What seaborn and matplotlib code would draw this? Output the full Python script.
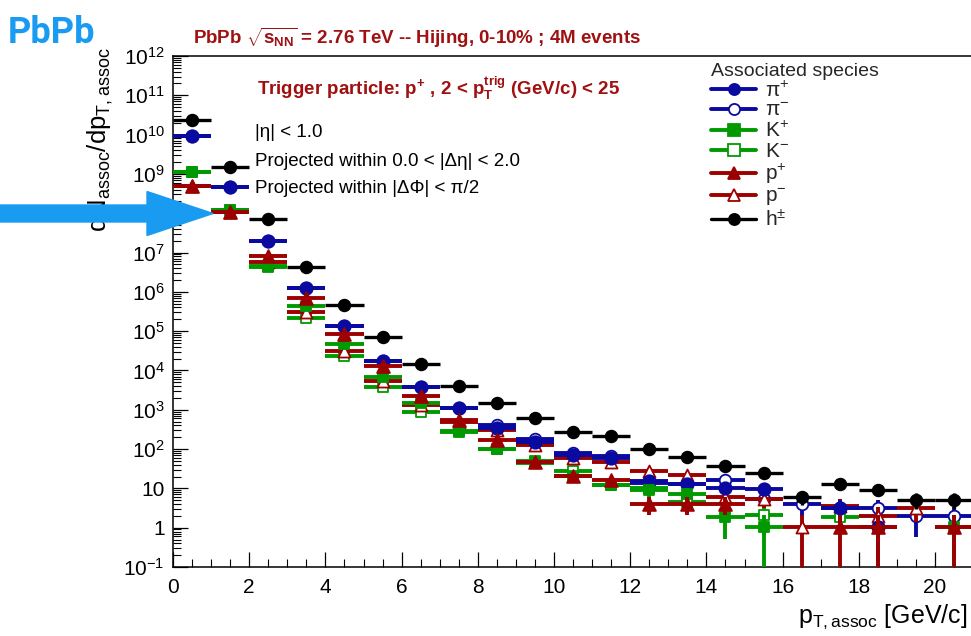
import numpy as np
import matplotlib
matplotlib.use("Agg")
import matplotlib.pyplot as plt
import seaborn as sns
from matplotlib.lines import Line2D
from matplotlib.patches import FancyArrow
from matplotlib.ticker import FixedLocator, FixedFormatter, MultipleLocator, LogLocator, NullFormatter

nan = np.nan
# ---------------- data ----------------
pt_centers = [0.5, 1.5, 2.5, 3.5, 4.5, 5.5, 6.5, 7.5, 8.5, 9.5, 10.5,
              11.5, 12.5, 13.5, 14.5, 15.5, 16.5, 17.5, 18.5, 19.5, 20.5]
bin_half_width = 0.5

pi_plus = [9.4e9, 4.7e8, 2.0e7, 1.26e6, 1.35e5, 1.7e4, 3.7e3, 1.1e3, 340, 150, 70,
           58, 15, 13, 10.5, 9.8, nan, 3.2, 1.07, nan, nan]
pi_minus = [9.4e9, 4.7e8, 2.0e7, 1.26e6, 1.35e5, 1.7e4, 3.7e3, 1.1e3, 420, 185, 80,
            65, 14, 13, 16, 5.5, 3.9, 3.2, 3.2, 2.0, 2.0]
k_plus = [1.15e9, 1.2e8, 4.5e6, 4.3e5, 4.7e4, 6.8e3, 1.45e3, 290, 103, 50, 21,
          12, 9, 7.4, 1.9, 1.07, nan, nan, nan, nan, 1.07]
k_minus = [1.1e9, 1.2e8, 4.3e6, 2.1e5, 2.3e4, 3.7e3, 860, 280, 100, 45, 27,
           12, 10, 4.4, nan, 2.1, nan, 1.9, nan, nan, nan]
p_plus = [5.0e8, 1.1e8, 8.2e6, 6.9e5, 8.3e4, 1.3e4, 2.3e3, 550, 175, 48, 21,
          16, 4.1, 4.1, 4.1, nan, nan, 1.07, 1.07, nan, 1.07]
p_minus = [5.0e8, 1.1e8, 5.7e6, 3.0e5, 3.1e4, 5.3e3, 1.3e3, 500, 310, 125, 61,
           48, 28, 22, 6.2, 5.5, 1.07, 3.5, 2.0, 3.2, nan]
h_all = [2.3e10, 1.5e9, 7.2e7, 4.3e6, 4.6e5, 7.1e4, 1.44e4, 4.0e3, 1.45e3, 600, 280,
         210, 98, 64, 38, 25, 6.2, 13, 9.3, 5.2, 5.2]

species_labels = ["π$^{+}$", "π$^{-}$", "K$^{+}$", "K$^{-}$", "p$^{+}$", "p$^{-}$", "h$^{\\pm}$"]
series = [pi_plus, pi_minus, k_plus, k_minus, p_plus, p_minus, h_all]

y_tick_values = [1e-1, 1, 1e1, 1e2, 1e3, 1e4, 1e5, 1e6, 1e7, 1e8, 1e9, 1e10, 1e11, 1e12]
y_tick_labels = ["$10^{-1}$", "1", "10", "$10^{2}$", "$10^{3}$", "$10^{4}$", "$10^{5}$",
                 "$10^{6}$", "$10^{7}$", "$10^{8}$", "$10^{9}$", "$10^{10}$", "$10^{11}$", "$10^{12}$"]

# ---------------- style ----------------
blue = "#0a0aa0"
green = "#009a00"
red = "#9c0000"
black = "#000000"
dark_red = "#a01010"
sky = "#1a9bf2"

styles = [
    dict(color=blue, marker="o", filled=True, s=80, lw=2.8, z=10),
    dict(color=blue, marker="o", filled=False, s=70, lw=2.8, z=4),
    dict(color=green, marker="s", filled=True, s=62, lw=2.8, z=12),
    dict(color=green, marker="s", filled=False, s=55, lw=2.8, z=6),
    dict(color=red, marker="^", filled=True, s=85, lw=2.8, z=14),
    dict(color=red, marker="^", filled=False, s=75, lw=2.8, z=8),
    dict(color=black, marker="o", filled=True, s=70, lw=2.4, z=16),
]

sns.set_theme(style="ticks")
plt.rcParams["font.family"] = ["Liberation Sans", "DejaVu Sans"]
plt.rcParams["mathtext.fontset"] = "custom"
plt.rcParams["mathtext.rm"] = "Liberation Sans"
plt.rcParams["mathtext.it"] = "Liberation Sans:italic"
plt.rcParams["mathtext.bf"] = "Liberation Sans:bold"

W, H = 971, 636
fig = plt.figure(figsize=(W / 100, H / 100), dpi=100)
ax = fig.add_axes([173 / W, 1 - 567 / H, 1 - 173 / W, (567 - 56) / H])


def fx(px):
    return px / W


def fy(py):
    return 1 - py / H


x = np.array(pt_centers)
for vals, st in zip(series, styles):
    y = np.array(vals, dtype=float)
    err = np.sqrt(y)
    lower = np.minimum(err, y * 0.999)
    ax.errorbar(x, y, xerr=bin_half_width, yerr=[lower, err], fmt="none",
                ecolor=st["color"], elinewidth=st["lw"], capsize=0, zorder=st["z"])
    face = st["color"] if st["filled"] else "white"
    sns.scatterplot(x=x, y=y, ax=ax, marker=st["marker"], s=st["s"], color=face,
                    edgecolor=st["color"], linewidth=1.3, zorder=st["z"] + 1, legend=False)

ax.set_yscale("log")
ax.set_xlim(0, (W - 173) / 38.1)
ax.set_ylim(1e-1, 1e12)
ax.set_xlabel("")
ax.set_ylabel("")

ax.xaxis.set_major_locator(MultipleLocator(2))
ax.xaxis.set_minor_locator(MultipleLocator(0.5))
ax.yaxis.set_major_locator(FixedLocator(y_tick_values))
ax.yaxis.set_major_formatter(FixedFormatter(y_tick_labels))
ax.yaxis.set_minor_locator(LogLocator(base=10, subs=np.arange(2, 10), numticks=100))
ax.yaxis.set_minor_formatter(NullFormatter())

ax.tick_params(which="both", direction="in", color="black", labelcolor="black")
ax.tick_params(which="major", length=11, width=0.9, labelsize=15)
ax.tick_params(axis="x", which="major", pad=8)
ax.tick_params(axis="y", which="major", pad=6)
ax.tick_params(which="minor", length=5.5, width=0.8)
for side in ["left", "bottom", "top"]:
    ax.spines[side].set_color("black")
    ax.spines[side].set_linewidth(1.1)
ax.spines["right"].set_visible(False)
ax.grid(False)

# legend
handles = []
for st in styles:
    handles.append(Line2D([0], [0], color=st["color"], lw=st["lw"], marker=st["marker"],
                          markersize=8, markerfacecolor=st["color"] if st["filled"] else "white",
                          markeredgecolor=st["color"], markeredgewidth=1.3))
leg = ax.legend(handles, species_labels, title="Associated species", loc="upper left",
                bbox_to_anchor=(fx(696), fy(48)), bbox_transform=fig.transFigure,
                frameon=False, fontsize=15, title_fontsize=14, handlelength=2.2,
                handletextpad=0.4, labelspacing=0.04, borderpad=0.2, alignment="left")
leg.set_zorder(30)

# texts
fig.text(fx(193), fy(44), "PbPb $\\sqrt{\\mathbf{s}_{\\mathbf{NN}}}$ = 2.76 TeV -- Hijing, 0-10% ; 4M events",
         color=dark_red, fontsize=13.5, fontweight="bold", ha="left", va="baseline")
fig.text(fx(257), fy(95), "Trigger particle: p$^{\\mathbf{+}}$ , 2 < p$_{\\mathbf{T}}^{\\mathbf{trig}}$ (GeV/c) < 25",
         color=dark_red, fontsize=13.5, fontweight="bold", ha="left", va="baseline")
fig.text(fx(255), fy(137), "|η| < 1.0", fontsize=13.5, ha="left", va="baseline", color="black")
fig.text(fx(255), fy(166), "Projected within 0.0 < |Δη| < 2.0", fontsize=13.5, ha="left",
         va="baseline", color="black")
fig.text(fx(255), fy(193), "Projected within |ΔΦ| < π/2", fontsize=13.5, ha="left",
         va="baseline", color="black")

fig.text(fx(100), fy(47), "dN$_{\\mathrm{assoc}}$/dp$_{\\mathrm{T,assoc}}$", rotation=90,
         fontsize=18.5, ha="center", va="top", color="black")
fig.text(fx(968), fy(623), "p$_{\\mathrm{T,assoc}}$ [GeV/c]", fontsize=18, ha="right",
         va="baseline", color="black")

fig.text(fx(8), fy(43), "PbPb", color=sky, fontsize=26, fontweight="bold",
         family=["Roboto", "DejaVu Sans"], ha="left", va="baseline")

arrow = FancyArrow(0, fy(213.5), fx(213), 0, width=17 / H, head_width=44 / H,
                   head_length=fx(66), length_includes_head=True, color=sky,
                   transform=fig.transFigure, zorder=50)
fig.patches.append(arrow)

fig.savefig("out.png", dpi=100)
